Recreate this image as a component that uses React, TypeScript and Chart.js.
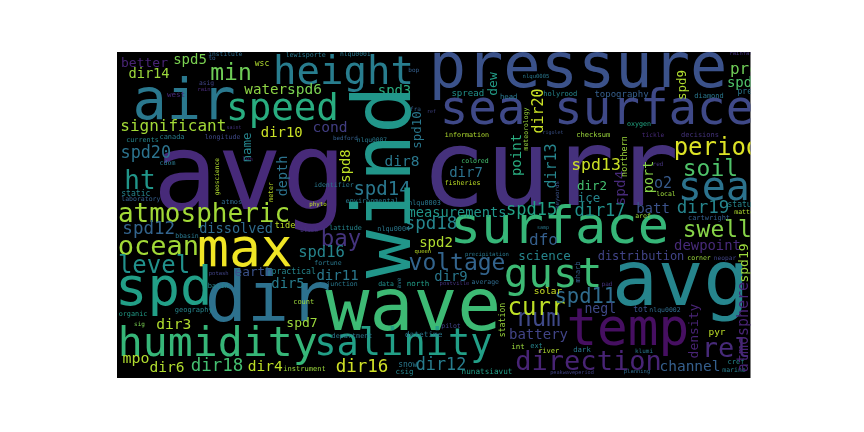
import React, { useEffect, useRef } from 'react';
import { Chart, registerables, Plugin } from 'chart.js';

Chart.register(...registerables);

// size of the cloud picture, in its own pixel units
const IMG_W = 633.5;
const IMG_H = 326;

// horizontal words: x = centre, y = baseline
const hWords = [
  'avg', 'curr', 'pressure', 'sea surface', 'wave', 'surface', 'avg', 'max', 'air', 'temp',
  'height', 'speed', 'spd', 'dir', 'humidity', 'salinity', 'gust', 'direction', 'sea', 'swell',
  'period', 'soil', 'rel', 'atmospheric', 'ocean', 'level', 'voltage', 'num', 'curr', 'battery',
  'bay', 'min', 'significant', 'ht', 'spd11', 'dir17', 'dir19', 'spd15', 'spd18', 'spd14',
  'spd13', 'spd12', 'spd20', 'dir16', 'dir18', 'dir12', 'dir4', 'dir6', 'dir3', 'spd7',
  'mpo', 'dir5', 'earth', 'dissolved', 'spd2', 'spd16', 'dir11', 'dir9', 'dfo', 'science',
  'negl', 'distribution', 'dewpoint', 'channel', 'batt', 'ice', 'dir2', 'o2', 'dir7', 'dir8',
  'measurements', 'spd3', 'cond', 'dir10', 'water', 'spd6', 'spd5', 'dir14', 'better', 'spread',
  'topography', 'pre', 'spd17', 'precip', 'rainfall', 'status', 'matter', 'cartwright', 'aref', 'corner',
  'neopar', 'tot', 'nlqu0002', 'pyr', 'klumi', 'cref', 'marine', 'planning', 'peakwaveperiod', 'river',
  'dark', 'ext', 'int', 'solar', 'pad', 'samp', 'institute', 'to', 'lewisporte', 'nlqu0001',
  'wsc', 'asig', 'rain', 'west', 'bop', 'head', 'nlqu0005', 'holyrood', 'diamond', 'currents',
  'canada', 'saint', 'longitude', 'cdom', 'static', 'laboratory', 'atmos', 'len', 'identifier', 'phyto',
  'environmental', 'tide', 'black', 'latitude', 'nlqu0007', 'bedford', 'fra', 'ref', 'information', 'colored',
  'fisheries', 'nlqu0003', 'rigolet', 'checksum', 'oxygen', 'tickle', 'decisions', 'red', 'local', 'bbasin',
  'potash', 'practical', 'basin', 'geography', 'count', 'organic', 'sig', 'instrument', 'fortune', 'junction',
  'data', 'north', 'postville', 'average', 'precipitation', 'queen', 'nlqu0004', 'pilot', 'department', 'datetime',
  'snow', 'csig', 'nunatsiavut',
];
const hX = [
  132.7, 433.1, 461, 480, 296.4, 442.4, 563.6, 127.9, 67, 510.8,
  226.5, 165.5, 46.8, 151, 100.8, 286.4, 436, 471.5, 596.8, 600.3,
  600, 593.4, 609.2, 87, 41.4, 37, 340, 422, 419.5, 421.5,
  224, 114, 56.3, 23, 468.3, 483, 586, 414.7, 314, 265,
  479, 31.7, 28.8, 245, 100, 324, 148.3, 50, 56.7, 185,
  19, 171, 136.7, 119, 319, 204.5, 220.5, 334, 426.5, 427.5,
  483.3, 524, 590.5, 573, 536, 472, 475, 546, 349, 285,
  340, 277.5, 213, 164.7, 148.7, 187.5, 73, 32, 27.5, 350.8,
  504.5, 627.4, 631, 635, 625.7, 625, 629, 592, 526, 582,
  608, 523.5, 548, 600, 527, 619, 617, 520, 455, 431.7,
  465, 419.5, 401, 431, 490, 426, 108.3, 95, 188.7, 238.3,
  145, 89.5, 87, 59, 296.7, 391.7, 419, 443.3, 592, 25.5,
  55, 117, 105.5, 50.5, 18.8, 23.8, 114.7, 130.5, 216.8, 201,
  255.2, 168, 192, 228.5, 255, 228.3, 298.5, 314.5, 350, 358,
  345.5, 307.5, 436, 476.3, 522, 536, 583, 541, 549, 70,
  101.7, 176.7, 101.3, 76.7, 186.7, 16, 22.5, 187.5, 211, 225,
  269, 301, 337.5, 368.3, 370, 305.8, 276.7, 334, 235, 306.7,
  290.8, 287.5, 370,
];
const hY = [
  157, 153, 35, 72, 278, 191, 253, 214, 67, 293,
  32, 68, 253, 269, 304, 303, 235, 318, 148, 185,
  103, 124, 305, 170, 203, 221, 218, 274, 263, 287,
  194, 28, 79, 137, 251, 164, 160.5, 163, 177, 143,
  118, 181.7, 105.7, 320, 319, 318, 319, 320, 276.7, 275,
  310.7, 236, 224, 181, 195, 205, 228, 229.3, 193, 208,
  261, 207.7, 198, 319, 161, 149.5, 138, 136, 125, 114,
  164.5, 42.7, 80.3, 85.3, 41.7, 41.7, 12, 26, 15, 44.3,
  44.5, 22, 35.3, 41.5, 3, 155, 162, 167.7, 166, 207.7,
  207.7, 260, 259.5, 283, 301, 312, 319.5, 321, 322, 300.5,
  300, 296, 297, 242, 234, 177, 4.3, 8, 4.5, 4,
  14, 32.5, 39, 45, 20, 47, 26, 44, 46.3, 90,
  86.7, 77, 87.3, 112.7, 143.7, 149.3, 152.3, 108.5, 135.3, 153.5,
  150.7, 176.3, 180, 178, 89.7, 87.7, 59.3, 61, 85.3, 111.3,
  132.5, 153, 81.5, 85, 74, 85, 85, 114, 144, 185.5,
  223, 221.5, 236, 260, 252, 264, 274, 319, 212.5, 234,
  233.7, 233.7, 233, 231.5, 203.5, 201, 178.5, 276, 285.5, 285,
  315, 322, 322,
];
const hSize = [
  107, 107, 62, 47.5, 73, 52, 76, 53, 57, 51,
  39, 37.5, 54, 70, 41.5, 37, 41, 27, 40, 23,
  24, 23, 27, 26, 27, 24, 23, 24, 24, 14,
  22.4, 23, 16, 26, 20.5, 17, 17.5, 17, 17.5, 19,
  16.5, 17.5, 16.8, 17.5, 17.5, 16.8, 14.6, 14.6, 14.6, 13,
  14.9, 13.9, 12.7, 13.6, 14, 15.5, 14, 13.9, 16, 12.5,
  13.2, 12, 13.9, 14.5, 14, 12.5, 12.5, 15, 14, 14.5,
  13.7, 13.9, 14.6, 13.9, 14.2, 14.5, 14, 13.7, 13, 9.1,
  9, 16, 14, 8, 5.5, 8, 6.5, 7, 6.5, 6.5,
  6.2, 8, 6.5, 9.5, 6, 7, 6.5, 5.5, 5.2, 7,
  7.3, 7, 7.5, 9.5, 6, 5, 6.3, 6, 6.7, 6.4,
  8, 6.3, 5.5, 7.5, 6, 7.3, 5.6, 7.1, 7, 6.8,
  6.9, 5, 6.6, 6.6, 8.1, 6.5, 6.9, 6, 6.6, 5.8,
  6.8, 8.6, 5.8, 6.8, 6.3, 5.9, 6, 5, 6.7, 6.5,
  6.6, 6.8, 5, 7.1, 6.7, 6.2, 7, 6, 6.5, 6.5,
  5.5, 8.2, 7, 7, 7, 6.8, 6, 7.1, 6.5, 6.5,
  6.5, 7.5, 5.5, 6.5, 5.6, 5.5, 6.8, 6.5, 6.8, 7.8,
  8, 7.5, 7.7,
];
// place of each word on the viridis colour map, 0..1
const hTone = [
  0.12, 0.14, 0.25, 0.22, 0.68, 0.66, 0.45, 0.98, 0.4, 0.04,
  0.42, 0.62, 0.56, 0.37, 0.66, 0.56, 0.68, 0.1, 0.38, 0.82,
  0.95, 0.72, 0.12, 0.86, 0.86, 0.5, 0.32, 0.22, 0.9, 0.2,
  0.15, 0.78, 0.86, 0.52, 0.35, 0.5, 0.45, 0.58, 0.45, 0.4,
  0.92, 0.32, 0.38, 0.93, 0.7, 0.42, 0.9, 0.88, 0.88, 0.85,
  0.88, 0.42, 0.25, 0.35, 0.88, 0.45, 0.4, 0.4, 0.3, 0.45,
  0.22, 0.2, 0.12, 0.3, 0.25, 0.45, 0.7, 0.28, 0.38, 0.4,
  0.52, 0.62, 0.18, 0.92, 0.83, 0.8, 0.8, 0.85, 0.1, 0.5,
  0.3, 0.78, 0.72, 0.4, 0.15, 0.45, 0.88, 0.3, 0.85, 0.85,
  0.2, 0.25, 0.35, 0.9, 0.4, 0.45, 0.42, 0.35, 0.2, 0.88,
  0.4, 0.45, 0.85, 0.92, 0.15, 0.4, 0.35, 0.3, 0.4, 0.4,
  0.88, 0.2, 0.12, 0.12, 0.3, 0.4, 0.4, 0.45, 0.4, 0.45,
  0.42, 0.15, 0.22, 0.4, 0.45, 0.3, 0.35, 0.1, 0.4, 0.9,
  0.4, 0.9, 0.15, 0.45, 0.4, 0.3, 0.3, 0.2, 0.88, 0.7,
  0.9, 0.4, 0.25, 0.85, 0.6, 0.12, 0.15, 0.15, 0.85, 0.4,
  0.2, 0.45, 0.45, 0.45, 0.85, 0.55, 0.8, 0.85, 0.4, 0.4,
  0.5, 0.55, 0.15, 0.35, 0.4, 0.9, 0.4, 0.2, 0.4, 0.4,
  0.4, 0.45, 0.55,
];

// vertical words, read bottom to top: x = baseline, y = centre
const vWords = [
  'wind', 'dir20', 'dir13', 'spd10', 'spd8', 'point', 'name', 'depth', 'dew', 'spd9',
  'spd4', 'port', 'density', 'spd19', 'atmosphere', 'meteorology', 'northern', 'keywords', 'geoscience',
  'meter', 'station', 'mharb', 'ave',
];
const vX = [
  293, 426, 439, 304, 233.3, 404, 133.5, 170, 380, 568.8,
  508, 536, 581, 631, 630.5, 411, 509.5, 442, 102,
  156, 388, 463, 284,
];
const vY = [
  130, 59, 114, 78, 114, 103, 95.5, 124, 32, 33,
  136, 125, 279, 211, 275, 77, 104.5, 143, 124.7,
  140, 268, 220, 231,
];
const vSize = [
  80, 15, 15, 12.5, 13.9, 14, 12.5, 13.5, 13, 12.5,
  14.5, 13.5, 13, 13, 15, 6.5, 8.5, 5.8, 6.2,
  6.5, 8.2, 7, 6,
];
const vTone = [
  0.52, 0.92, 0.45, 0.4, 0.9, 0.62, 0.45, 0.38, 0.55, 0.88,
  0.12, 0.82, 0.1, 0.85, 0.1, 0.85, 0.85, 0.25, 0.88,
  0.9, 0.85, 0.3, 0.4,
];

const VIRIDIS = [
  '#440154', '#482475', '#414487', '#355f8d', '#2a788e', '#21918c',
  '#22a884', '#44bf70', '#7ad151', '#bddf26', '#fde725',
];

function viridis(t: number): string {
  const f = Math.min(Math.max(t, 0), 1) * (VIRIDIS.length - 1);
  const i = Math.min(Math.floor(f), VIRIDIS.length - 2);
  const k = f - i;
  const a = VIRIDIS[i];
  const b = VIRIDIS[i + 1];
  const ch = (s: string, o: number) => parseInt(s.slice(o, o + 2), 16);
  const mix = (o: number) => Math.round(ch(a, o) + (ch(b, o) - ch(a, o)) * k);
  return `rgb(${mix(1)},${mix(3)},${mix(5)})`;
}

const groups = [
  { words: hWords, size: hSize, tone: hTone, angle: 0 },
  { words: vWords, size: vSize, tone: vTone, angle: -Math.PI / 2 },
];

const cloudPlugin: Plugin<'scatter'> = {
  id: 'cloudWords',
  beforeDraw(chart) {
    const { ctx, chartArea: a } = chart;
    ctx.save();
    ctx.fillStyle = '#000';
    ctx.fillRect(a.left, a.top, a.width, a.height);
    ctx.restore();
  },
  afterDatasetsDraw(chart) {
    const { ctx, chartArea: a } = chart;
    const k = a.width / IMG_W;
    ctx.save();
    ctx.beginPath();
    ctx.rect(a.left, a.top, a.width, a.height);
    ctx.clip();
    ctx.textAlign = 'center';
    ctx.textBaseline = 'alphabetic';
    groups.forEach((g, di) => {
      chart.getDatasetMeta(di).data.forEach((pt, i) => {
        ctx.save();
        ctx.translate(pt.x, pt.y);
        if (g.angle) ctx.rotate(g.angle);
        ctx.font = `${g.size[i] * k}px "DejaVu Sans Mono"`;
        ctx.fillStyle = viridis(g.tone[i]);
        ctx.fillText(g.words[i], 0, 0);
        ctx.restore();
      });
    });
    ctx.restore();
  },
};

const WordCloud: React.FC = () => {
  const canvasRef = useRef<HTMLCanvasElement | null>(null);

  useEffect(() => {
    if (!canvasRef.current) return;
    const chart = new Chart(canvasRef.current, {
      type: 'scatter',
      data: {
        datasets: [
          { data: hX.map((x, i) => ({ x, y: hY[i] })), pointRadius: 0 },
          { data: vX.map((x, i) => ({ x, y: vY[i] })), pointRadius: 0 },
        ],
      },
      options: {
        animation: false,
        responsive: true,
        maintainAspectRatio: false,
        layout: { padding: { left: 117, top: 52, right: 113.5, bottom: 54 } },
        plugins: { legend: { display: false }, tooltip: { enabled: false } },
        scales: {
          x: { type: 'linear', min: 0, max: IMG_W, display: false },
          y: { type: 'linear', min: 0, max: IMG_H, reverse: true, display: false },
        },
      },
      plugins: [cloudPlugin],
    });
    return () => chart.destroy();
  }, []);

  return (
    <div style={{ position: 'fixed', left: 0, top: 0, width: 864, height: 432, background: '#fff' }}>
      <canvas ref={canvasRef}></canvas>
    </div>
  );
};

export default function App() {
  return <WordCloud />;
}
